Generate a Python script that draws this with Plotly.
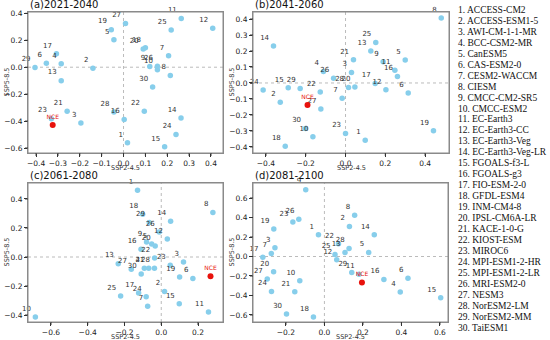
import plotly.graph_objects as go

W, H = 550, 340

model_names = ["ACCESS-CM2", "ACCESS-ESM1-5", "AWI-CM-1-1-MR", "BCC-CSM2-MR", "CanESM5",
               "CAS-ESM2-0", "CESM2-WACCM", "CIESM", "CMCC-CM2-SR5", "CMCC-ESM2",
               "EC-Earth3", "EC-Earth3-CC", "EC-Earth3-Veg", "EC-Earth3-Veg-LR", "FGOALS-f3-L",
               "FGOALS-g3", "FIO-ESM-2-0", "GFDL-ESM4", "INM-CM4-8", "IPSL-CM6A-LR",
               "KACE-1-0-G", "KIOST-ESM", "MIROC6", "MPI-ESM1-2-HR", "MPI-ESM1-2-LR",
               "MRI-ESM2-0", "NESM3", "NorESM2-LM", "NorESM2-MM", "TaiESM1"]
model_ids = [str(i) for i in range(1, 31)]

panel_titles = ["(a)2021-2040", "(b)2041-2060", "(c)2061-2080", "(d)2081-2100"]

# SSP2-4.5 (x) and SSP5-8.5 (y) values per period, models 1..30
a_x = [0.018, -0.140, -0.195, -0.285, -0.044, -0.353, 0.206, 0.214, 0.120, 0.155,
       0.264, 0.408, -0.285, 0.263, 0.188, 0.003, -0.307, 0.100, -0.056, 0.090,
       -0.258, 0.095, -0.330, 0.240, 0.218, 0.155, 0.009, -0.044, -0.405, 0.133]
a_y = [-0.561, -0.007, -0.414, 0.025, 0.204, 0.030, 0.085, -0.062, 0.005, -0.018,
       0.362, 0.289, -0.100, -0.377, -0.591, -0.389, 0.100, 0.145, 0.279, 0.135,
       -0.327, -0.327, -0.382, -0.500, 0.277, 0.008, 0.324, -0.332, -0.002, -0.147]
a_nce = (-0.324, -0.429)

b_x = [0.099, -0.328, 0.030, -0.111, 0.300, 0.315, -0.017, 0.481, 0.189, -0.164,
       0.248, 0.203, 0.127, -0.362, -0.288, 0.261, 0.149, -0.303, 0.442, 0.047,
       0.040, -0.127, 0.000, -0.414, 0.152, -0.060, -0.124, 0.015, -0.228, -0.201]
b_y = [-0.358, -0.120, 0.065, 0.072, 0.143, -0.063, -0.095, 0.406, 0.133, -0.337,
       0.080, -0.042, 0.200, 0.232, -0.030, 0.040, -0.004, -0.396, -0.299, -0.025,
       0.145, -0.057, -0.316, -0.044, 0.253, 0.030, -0.162, -0.029, -0.034, -0.284]
b_nce = (-0.191, -0.137)

c_x = [-0.129, 0.018, 0.121, -0.092, -0.052, 0.172, -0.074, 0.281, -0.080, -0.685,
       0.257, 0.033, -0.234, 0.051, 0.098, -0.110, -0.123, -0.101, 0.100, -0.033,
       -0.068, -0.036, 0.049, -0.082, -0.221, -0.011, -0.163, -0.037, -0.065, -0.109]
c_y = [0.460, -0.237, -0.034, -0.077, 0.090, -0.149, -0.340, 0.306, 0.103, -0.414,
       -0.379, 0.124, -0.046, 0.246, -0.322, 0.053, -0.248, 0.294, -0.138, 0.076,
       -0.077, -0.007, -0.057, -0.274, -0.269, 0.172, -0.085, -0.077, 0.237, -0.117]
c_nce = (0.268, -0.133)

d_x = [-0.031, 0.130, -0.257, 0.394, 0.230, 0.434, -0.276, 0.157, -0.097, -0.128,
       0.180, 0.064, 0.107, 0.259, 0.604, 0.309, -0.320, -0.057, -0.263, -0.264,
       -0.154, 0.073, -0.164, -0.275, 0.055, -0.133, -0.297, 0.128, 0.142, -0.197]
d_y = [0.222, 0.307, 0.089, -0.365, 0.041, -0.222, 0.031, 0.423, 0.686, -0.249,
       -0.181, -0.034, 0.041, 0.222, -0.423, -0.235, -0.007, -0.621, 0.283, -0.157,
       -0.362, 0.130, 0.355, -0.358, 0.020, 0.382, -0.232, 0.082, -0.164, -0.590]
d_nce = (0.195, -0.266)

x_ticks = [[-0.4, -0.3, -0.2, -0.1, 0.0, 0.1, 0.2, 0.3, 0.4],
           [-0.4, -0.2, 0.0, 0.2, 0.4],
           [-0.6, -0.4, -0.2, 0.0, 0.2],
           [-0.2, 0.0, 0.2, 0.4, 0.6]]
y_ticks = [[-0.6, -0.4, -0.2, 0.0, 0.2, 0.4],
           [-0.4, -0.3, -0.2, -0.1, 0.0, 0.1, 0.2, 0.3, 0.4],
           [-0.4, -0.2, 0.0, 0.2, 0.4],
           [-0.6, -0.4, -0.2, 0.0, 0.2, 0.4, 0.6]]
x_ranges = [[-0.437, 0.455], [-0.465, 0.52], [-0.725, 0.336], [-0.371, 0.642]]
y_ranges = [[-0.637, 0.41], [-0.438, 0.444], [-0.448, 0.51], [-0.672, 0.754]]

# panel pixel boxes: left, right, top, bottom
boxes = [(28, 223, 12, 153), (253, 449, 12, 153), (28, 223, 183, 322), (253, 448, 183, 322)]

panels = [(a_x, a_y, a_nce), (b_x, b_y, b_nce), (c_x, c_y, c_nce), (d_x, d_y, d_nce)]

fig = go.Figure()
TICKFONT = dict(family="DejaVu Sans", size=7.5, color="#222")
annotations = []
shapes = []
FRAME = "#8a8a8a"
TICKLEN = 3.0

for i, (px, py, nce) in enumerate(panels):
    sfx = "" if i == 0 else str(i + 1)
    xa, ya = "x" + sfx, "y" + sfx
    l, r, t, b = boxes[i]
    x0r, x1r = x_ranges[i]
    y0r, y1r = y_ranges[i]
    fig.add_trace(go.Scatter(
        x=px, y=py, text=model_ids, mode="markers+text", textposition="top left",
        marker=dict(color="#87CEEB", size=5.5, line=dict(width=0)),
        textfont=dict(family="DejaVu Sans", size=7, color="#333"),
        xaxis=xa, yaxis=ya, showlegend=False, cliponaxis=False))
    fig.add_trace(go.Scatter(
        x=[nce[0]], y=[nce[1]], text=["NCE"], mode="markers+text", textposition="top center",
        marker=dict(color="#e8120c", size=6, line=dict(width=0)),
        textfont=dict(family="DejaVu Sans", size=6, color="#e8120c"),
        xaxis=xa, yaxis=ya, showlegend=False, cliponaxis=False))
    axis_common = dict(showgrid=False, zeroline=False, showline=True, mirror=True,
                       linecolor=FRAME, linewidth=1, ticks="outside", ticklen=3,
                       tickcolor="#333333", tickfont=TICKFONT, tickformat=".1f",
                       automargin=False)
    fig.update_layout(**{
        ("xaxis" + sfx): dict(domain=[l / W, r / W], range=x_ranges[i], tickvals=x_ticks[i],
                              anchor=ya, **axis_common),
        ("yaxis" + sfx): dict(domain=[1 - b / H, 1 - t / H], range=y_ranges[i], tickvals=y_ticks[i],
                              anchor=xa, **axis_common),
    })
    # zero reference lines
    shapes.append(dict(type="line", xref=xa, yref=ya + " domain", x0=0, x1=0, y0=0, y1=1,
                       line=dict(color="#bbbbbb", width=1, dash="dot"), layer="below"))
    shapes.append(dict(type="line", xref=xa + " domain", yref=ya, x0=0, x1=1, y0=0, y1=0,
                       line=dict(color="#bbbbbb", width=1, dash="dot"), layer="below"))
    # panel frame (paper-referenced so it is never clipped)
    shapes.append(dict(type="rect", xref="paper", yref="paper",
                       x0=l / W, x1=r / W, y0=1 - b / H, y1=1 - t / H,
                       line=dict(color=FRAME, width=1), fillcolor="rgba(0,0,0,0)", layer="above"))
    # outside tick marks, positioned from the tick values through the panel's axis mapping
    for v in x_ticks[i]:
        xp = (l + (v - x0r) / (x1r - x0r) * (r - l)) / W
        shapes.append(dict(type="line", xref="paper", yref="paper", x0=xp, x1=xp,
                           y0=1 - b / H, y1=1 - (b + TICKLEN) / H,
                           line=dict(color="#333333", width=1), layer="above"))
    for v in y_ticks[i]:
        yp = 1 - (b - (v - y0r) / (y1r - y0r) * (b - t)) / H
        shapes.append(dict(type="line", xref="paper", yref="paper", x0=l / W, x1=(l - TICKLEN) / W,
                           y0=yp, y1=yp, line=dict(color="#333333", width=1), layer="above"))
    annotations.append(dict(text=panel_titles[i], xref="paper", yref="paper", x=(l + 1) / W,
                            y=1 - (t - 1) / H, xanchor="left", yanchor="bottom", showarrow=False,
                            borderpad=0, font=dict(family="DejaVu Sans", size=10, color="#111")))
    annotations.append(dict(text="SSP2-4.5", xref="paper", yref="paper", x=(l + r) / 2 / W,
                            y=1 - (b + 14.5) / H, xanchor="center", yanchor="middle", showarrow=False,
                            borderpad=0, font=dict(family="DejaVu Sans", size=6.5, color="#333")))
    annotations.append(dict(text="SSP5-8.5", xref="paper", yref="paper", x=(l - 22) / W,
                            y=1 - (t + b) / 2 / H, xanchor="center", yanchor="middle", showarrow=False,
                            textangle=-90, borderpad=0,
                            font=dict(family="DejaVu Sans", size=6.5, color="#333")))

for k, name in enumerate(model_names):
    annotations.append(dict(text=f"{k + 1}. {name}", xref="paper", yref="paper", x=457 / W,
                            y=1 - (10 + k * 10.95) / H, xanchor="left", yanchor="middle",
                            showarrow=False, borderpad=0,
                            font=dict(family="Liberation Serif", size=9.5, color="#111")))

fig.update_layout(width=W, height=H, margin=dict(l=0, r=0, t=0, b=0, autoexpand=False),
                  paper_bgcolor="white", plot_bgcolor="white",
                  annotations=annotations, shapes=shapes)

fig.write_html("out.html", config={"displayModeBar": False},
               post_script="document.body.style.margin='0';document.body.style.overflow='hidden';")
